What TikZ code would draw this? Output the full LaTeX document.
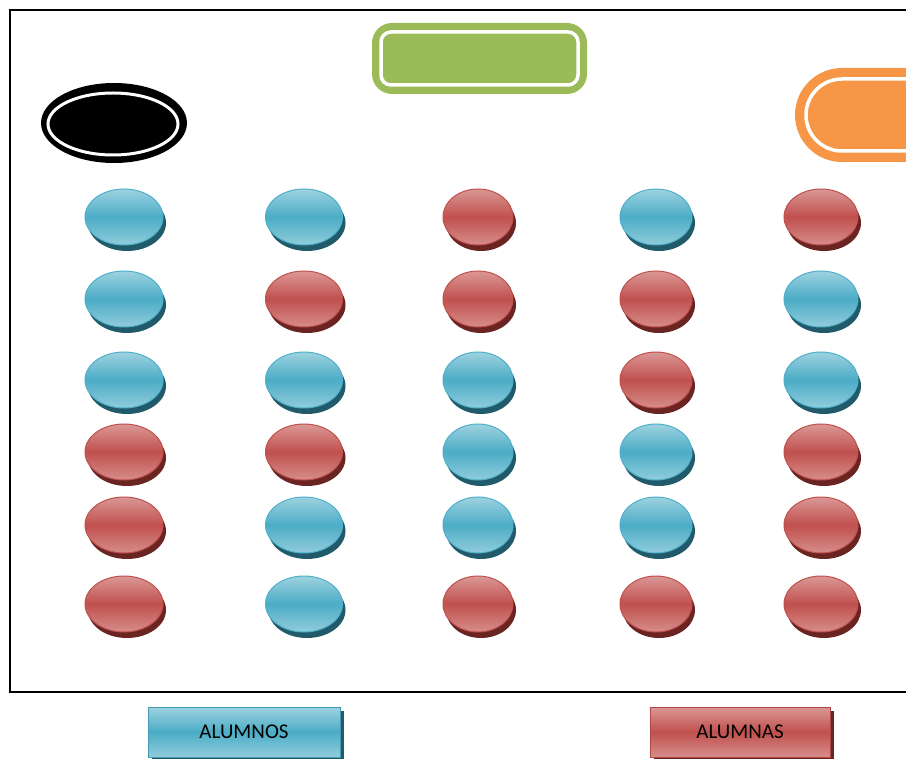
\documentclass[tikz,border=0pt]{standalone}
\usepackage{fontspec}
\setmainfont{Carlito}
\usetikzlibrary{shapes.geometric,shadows}
\definecolor{bmain}{HTML}{4BACC6}
\definecolor{blight}{HTML}{9ED2E0}
\definecolor{bedge}{HTML}{4FB0CA}
\definecolor{bshadow}{HTML}{215B6B}
\definecolor{rmain}{HTML}{C0504D}
\definecolor{rlight}{HTML}{DA9896}
\definecolor{redge}{HTML}{C0504D}
\definecolor{rshadow}{HTML}{6A2422}
\definecolor{gfill}{HTML}{9BBB59}
\definecolor{ofill}{HTML}{F79646}
\tikzset{
  seat/.style={ellipse, inner sep=0pt, minimum height=56pt, line width=1pt},
  alumno/.style={seat, draw=bedge, top color=blight, bottom color=blight!85!bmain, middle color=bmain,
    drop shadow={shadow xshift=3pt, shadow yshift=-6pt, fill=bshadow, opacity=1}},
  alumna/.style={seat, draw=redge, top color=rlight, bottom color=rlight!85!rmain, middle color=rmain,
    drop shadow={shadow xshift=3pt, shadow yshift=-6pt, fill=rshadow, opacity=1}},
  legendbox/.style={rectangle, inner sep=0pt, minimum height=50pt, line width=1pt, font=\fontsize{21}{24}\selectfont},
}
\begin{document}
\begin{tikzpicture}[x=1pt,y=-1pt]
\useasboundingbox (0,0) rectangle (906,759);
\clip (0,0) rectangle (906,759);
\fill[white] (0,0) rectangle (906,759);
% frame
\draw[line width=2pt] (10,10) rectangle (930,692);
% green board
\fill[gfill, rounded corners=20pt] (372,23) rectangle (587,94);
\draw[white, line width=3.5pt, rounded corners=10pt] (381,32) rectangle (578,85);
% black ellipse
\fill[black] (114,123) ellipse [x radius=73, y radius=40];
\draw[white, line width=3pt] (113,124) ellipse [x radius=65, y radius=31];
% orange door
\fill[ofill] (940,68) -- (842,68) arc[start angle=270, end angle=90, radius=47] -- (940,162) -- cycle;
\draw[white, line width=3.5pt] (940,79) -- (842,79) arc[start angle=270, end angle=90, radius=36] -- (940,151);
% seats
\foreach \row/\y/\a/\b/\c/\d/\e in {1/217/alumno/alumno/alumna/alumno/alumna,
                                   2/299/alumno/alumna/alumna/alumna/alumno,
                                   3/380/alumno/alumno/alumno/alumna/alumno,
                                   4/452/alumna/alumna/alumno/alumno/alumna,
                                   5/525/alumna/alumno/alumno/alumno/alumna,
                                   6/604/alumna/alumno/alumna/alumna/alumna}{
  \node[\a, minimum width=78pt] (s\row-1) at (124,\y) {};
  \node[\b, minimum width=77pt] (s\row-2) at (304,\y) {};
  \node[\c, minimum width=70pt] (s\row-3) at (478,\y) {};
  \node[\d, minimum width=72pt] (s\row-4) at (656,\y) {};
  \node[\e, minimum width=74pt] (s\row-5) at (821,\y) {};
}
% legend
\node[legendbox, minimum width=192pt, draw=bmain!90!black, top color=blight, bottom color=blight!85!bmain, middle color=bmain,
  drop shadow={shadow xshift=4pt, shadow yshift=-4pt, fill=bshadow, opacity=1}] (lgA) at (244,732) {ALUMNOS};
\node[legendbox, minimum width=180pt, draw=rmain!90!black, top color=rlight, bottom color=rlight!85!rmain, middle color=rmain,
  drop shadow={shadow xshift=4pt, shadow yshift=-4pt, fill=rshadow, opacity=1}] (lgB) at (740,732) {ALUMNAS};
\end{tikzpicture}
\end{document}
